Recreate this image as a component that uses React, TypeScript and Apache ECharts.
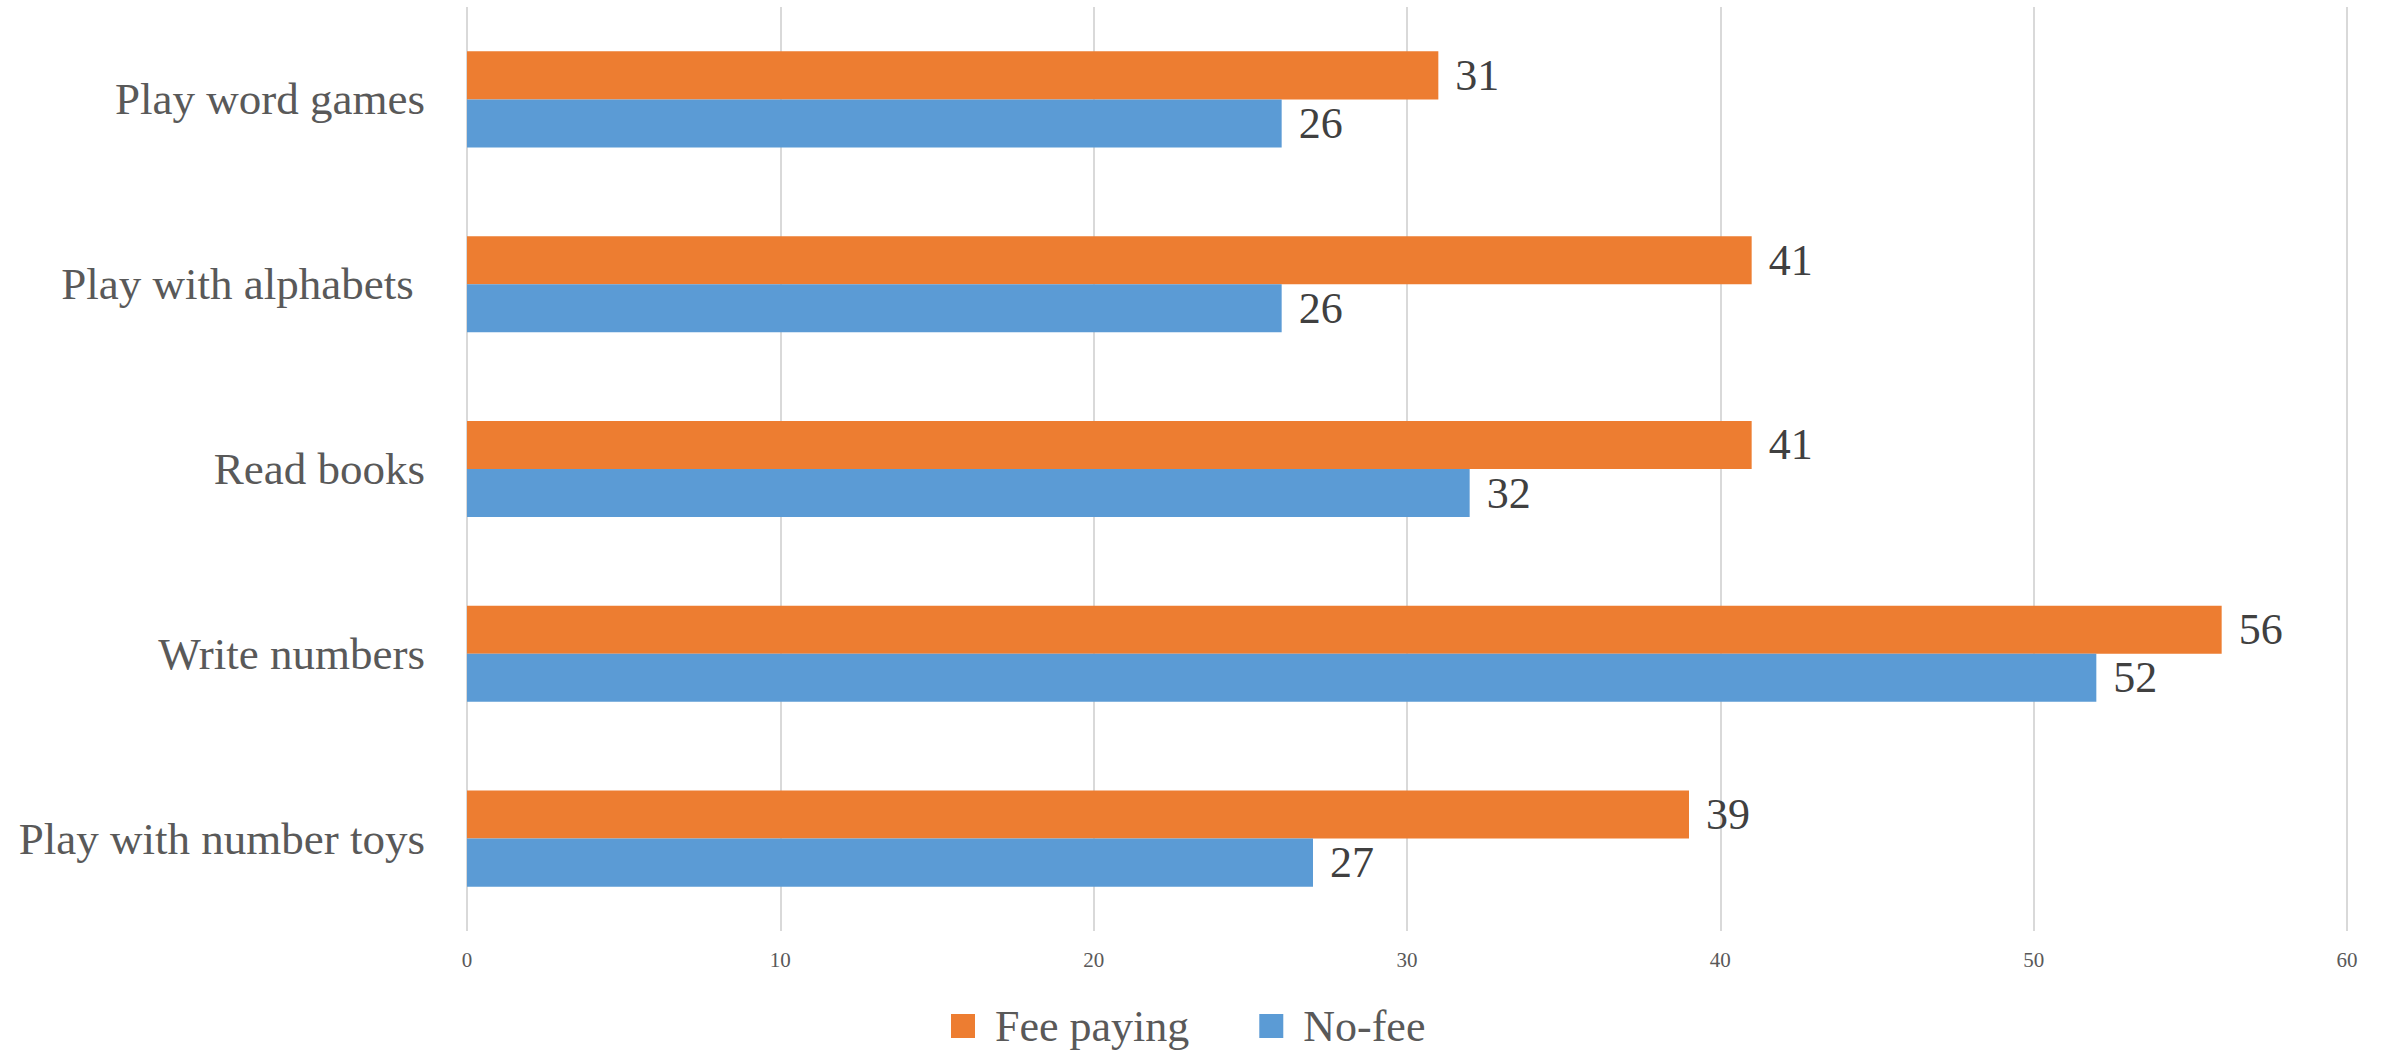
import React, { useEffect, useRef } from "react";
import * as echarts from "echarts";

// bottom-to-top category order
const categories = [
  "Play with number toys",
  "Write numbers",
  "Read books",
  "Play with alphabets ",
  "Play word games",
];
const feePaying = [39, 56, 41, 41, 31];
const noFee = [27, 52, 32, 26, 26];
const xTicks = { min: 0, max: 60, interval: 10 };

const FONT = "'Liberation Serif', 'DejaVu Serif', serif";

export default function App() {
  const ref = useRef<HTMLDivElement>(null);
  useEffect(() => {
    document.body.style.margin = "0";
    const chart = echarts.init(ref.current!, null, { renderer: "svg" });
    const labelStyle = {
      show: true,
      position: "right" as const,
      distance: 17,
      fontFamily: FONT,
      fontSize: 44,
      color: "#404040",
    };
    chart.setOption({
      animation: false,
      backgroundColor: "#ffffff",
      textStyle: { fontFamily: FONT },
      grid: { left: 467, right: 40, top: 7, bottom: 119, containLabel: false },
      legend: {
        data: ["Fee paying", "No-fee"],
        left: 946,
        top: 998,
        itemWidth: 24,
        itemHeight: 24,
        itemGap: 70,
        icon: "rect",
        textStyle: { fontFamily: FONT, fontSize: 44, lineHeight: 46, color: "#595959", padding: [0, 0, 0, 15] },
      },
      xAxis: {
        type: "value",
        min: xTicks.min,
        max: xTicks.max,
        interval: xTicks.interval,
        axisLine: { show: false },
        axisTick: { show: false },
        splitLine: { show: true, lineStyle: { color: "#d9d9d9", width: 2 } },
        axisLabel: { fontFamily: FONT, fontSize: 21, color: "#595959", margin: 18 },
      },
      yAxis: {
        type: "category",
        data: categories,
        axisLine: { show: false },
        axisTick: { show: false },
        splitLine: { show: false },
        axisLabel: { fontFamily: FONT, fontSize: 45, color: "#595959", margin: 42 },
      },
      series: [
        {
          name: "Fee paying",
          type: "bar",
          data: feePaying,
          itemStyle: { color: "#ED7D31" },
          barGap: "0%",
          barCategoryGap: "48%",
          label: labelStyle,
        },
        {
          name: "No-fee",
          type: "bar",
          data: noFee,
          itemStyle: { color: "#5B9BD5" },
          barGap: "0%",
          barCategoryGap: "48%",
          label: labelStyle,
        },
      ],
    });
    return () => chart.dispose();
  }, []);
  return <div ref={ref} style={{ width: 2387, height: 1050 }} />;
}
